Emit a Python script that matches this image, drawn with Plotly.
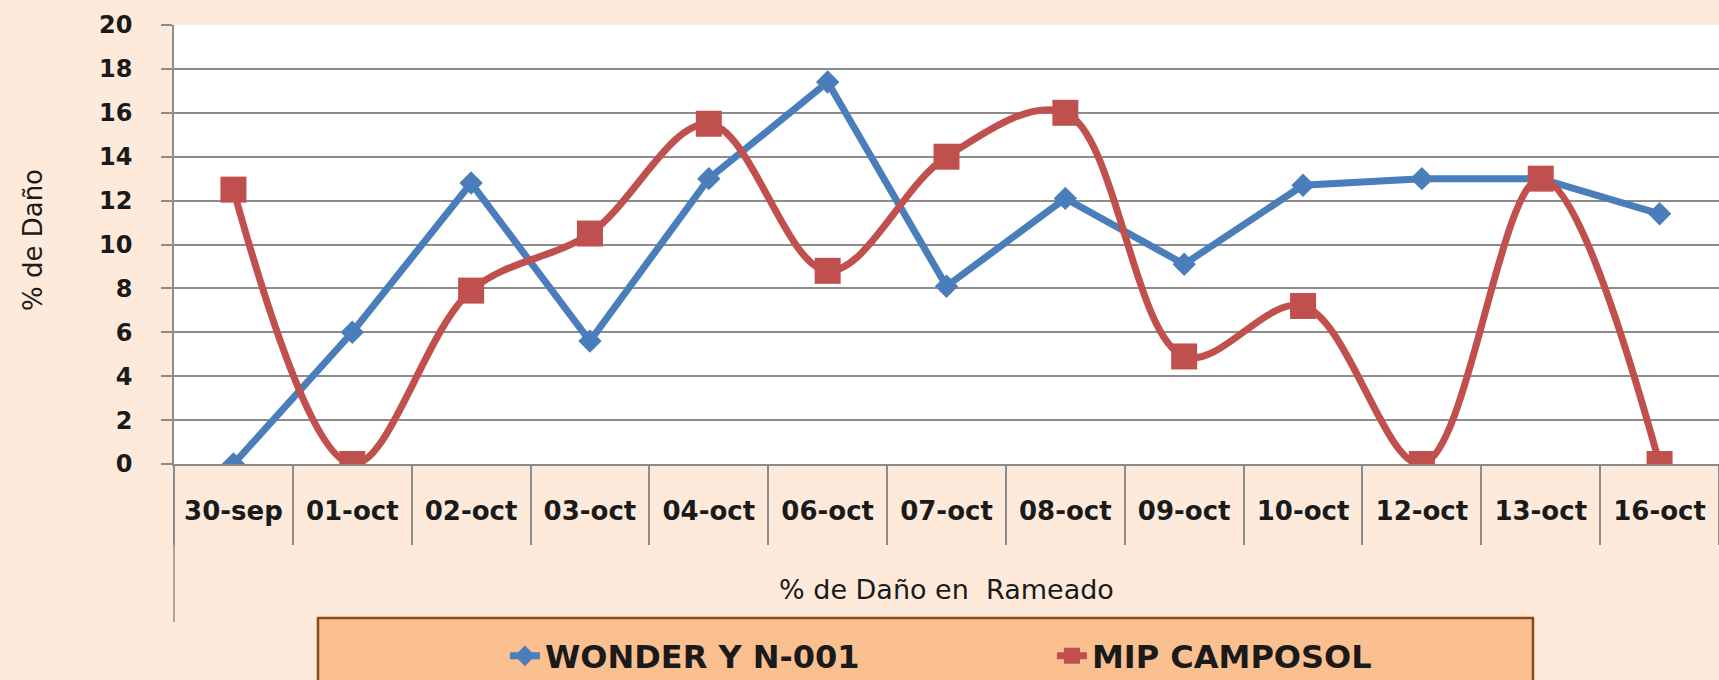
import plotly.graph_objects as go

categories = ["30-sep", "01-oct", "02-oct", "03-oct", "04-oct", "06-oct", "07-oct",
              "08-oct", "09-oct", "10-oct", "12-oct", "13-oct", "16-oct"]
wonder = [0, 6.0, 12.8, 5.6, 13.0, 17.4, 8.1, 12.1, 9.1, 12.7, 13.0, 13.0, 11.4]
mip = [12.5, 0, 7.9, 10.5, 15.5, 8.8, 14.0, 16.0, 4.9, 7.2, 0, 13.0, 0]
y_ticks = [0, 2, 4, 6, 8, 10, 12, 14, 16, 18, 20]

BLUE = "#4A7EBB"
RED = "#C0504D"
GRID = "#8C8C8C"
BG = "#FDEADA"
FONT = "DejaVu Sans"

fig = go.Figure()
fig.add_trace(go.Scatter(
    x=categories, y=wonder, name="WONDER Y N-001", mode="lines+markers",
    line=dict(color=BLUE, width=7),
    marker=dict(symbol="diamond", size=18, color=BLUE),
))
fig.add_trace(go.Scatter(
    x=categories, y=mip, name="MIP CAMPOSOL", mode="lines+markers",
    line=dict(color=RED, width=7, shape="spline", smoothing=1),
    marker=dict(symbol="square", size=26, color=RED),
))

fig.update_layout(
    template="none",
    width=1719, height=680, autosize=False,
    margin=dict(l=174, r=0, t=25, b=216, autoexpand=False),
    paper_bgcolor=BG, plot_bgcolor="white",
    font=dict(family=FONT, color="#1a1a1a"),
    showlegend=True,
    legend=dict(
        orientation="h", x=0.2142, xanchor="left", y=-0.4374, yanchor="middle",
        bgcolor="rgba(0,0,0,0)", borderwidth=0,
        font=dict(family=FONT, size=32, color="#1a1a1a", weight="bold"),
        entrywidth=502, itemwidth=30,
    ),
    xaxis=dict(
        type="category", categoryorder="array", categoryarray=categories,
        range=[-0.5, len(categories) - 0.5],
        showgrid=False, zeroline=False, automargin=False,
        showline=True, linecolor=GRID, linewidth=1.5,
        ticks="outside", tickson="boundaries", ticklen=79,
        tickcolor=GRID, tickwidth=1.5,
        ticklabelstandoff=23,
        tickfont=dict(family=FONT, size=26, color="#1a1a1a", weight="bold"),
    ),
    yaxis=dict(
        range=[0, 20], tickvals=y_ticks, ticktext=[str(v) for v in y_ticks],
        showgrid=True, gridcolor=GRID, gridwidth=1.5, zeroline=False,
        automargin=False,
        showline=True, linecolor=GRID, linewidth=1.5,
        ticks="outside", ticklen=11, tickcolor=GRID, tickwidth=1.5,
        ticklabelstandoff=24,
        tickfont=dict(family=FONT, size=24, color="#1a1a1a", weight="bold"),
    ),
    shapes=[
        # y-axis line extension below plot
        dict(type="line", xref="paper", yref="paper", x0=0, x1=0, y0=0, y1=-0.36,
             line=dict(color=GRID, width=1.5)),
        # legend box
        dict(type="rect", xref="paper", yref="paper", x0=0.0932, x1=0.8796,
             y0=-0.3508, y1=-0.56, fillcolor="#FAC090",
             line=dict(color="#8B4A14", width=2.5), layer="below"),
    ],
    annotations=[
        dict(text="% de Daño", xref="paper", yref="paper", x=-0.0913, y=0.51,
             textangle=-90, showarrow=False, xanchor="center", yanchor="middle",
             font=dict(family=FONT, size=26, color="#1a1a1a")),
        dict(text="% de Daño en  Rameado", xref="paper", yref="paper", x=0.5, y=-0.285,
             showarrow=False, xanchor="center", yanchor="middle",
             font=dict(family=FONT, size=27, color="#1a1a1a")),
    ],
)

fig.write_html("out.html", config={"displayModeBar": False},
               post_script="document.body.style.margin='0px';")
